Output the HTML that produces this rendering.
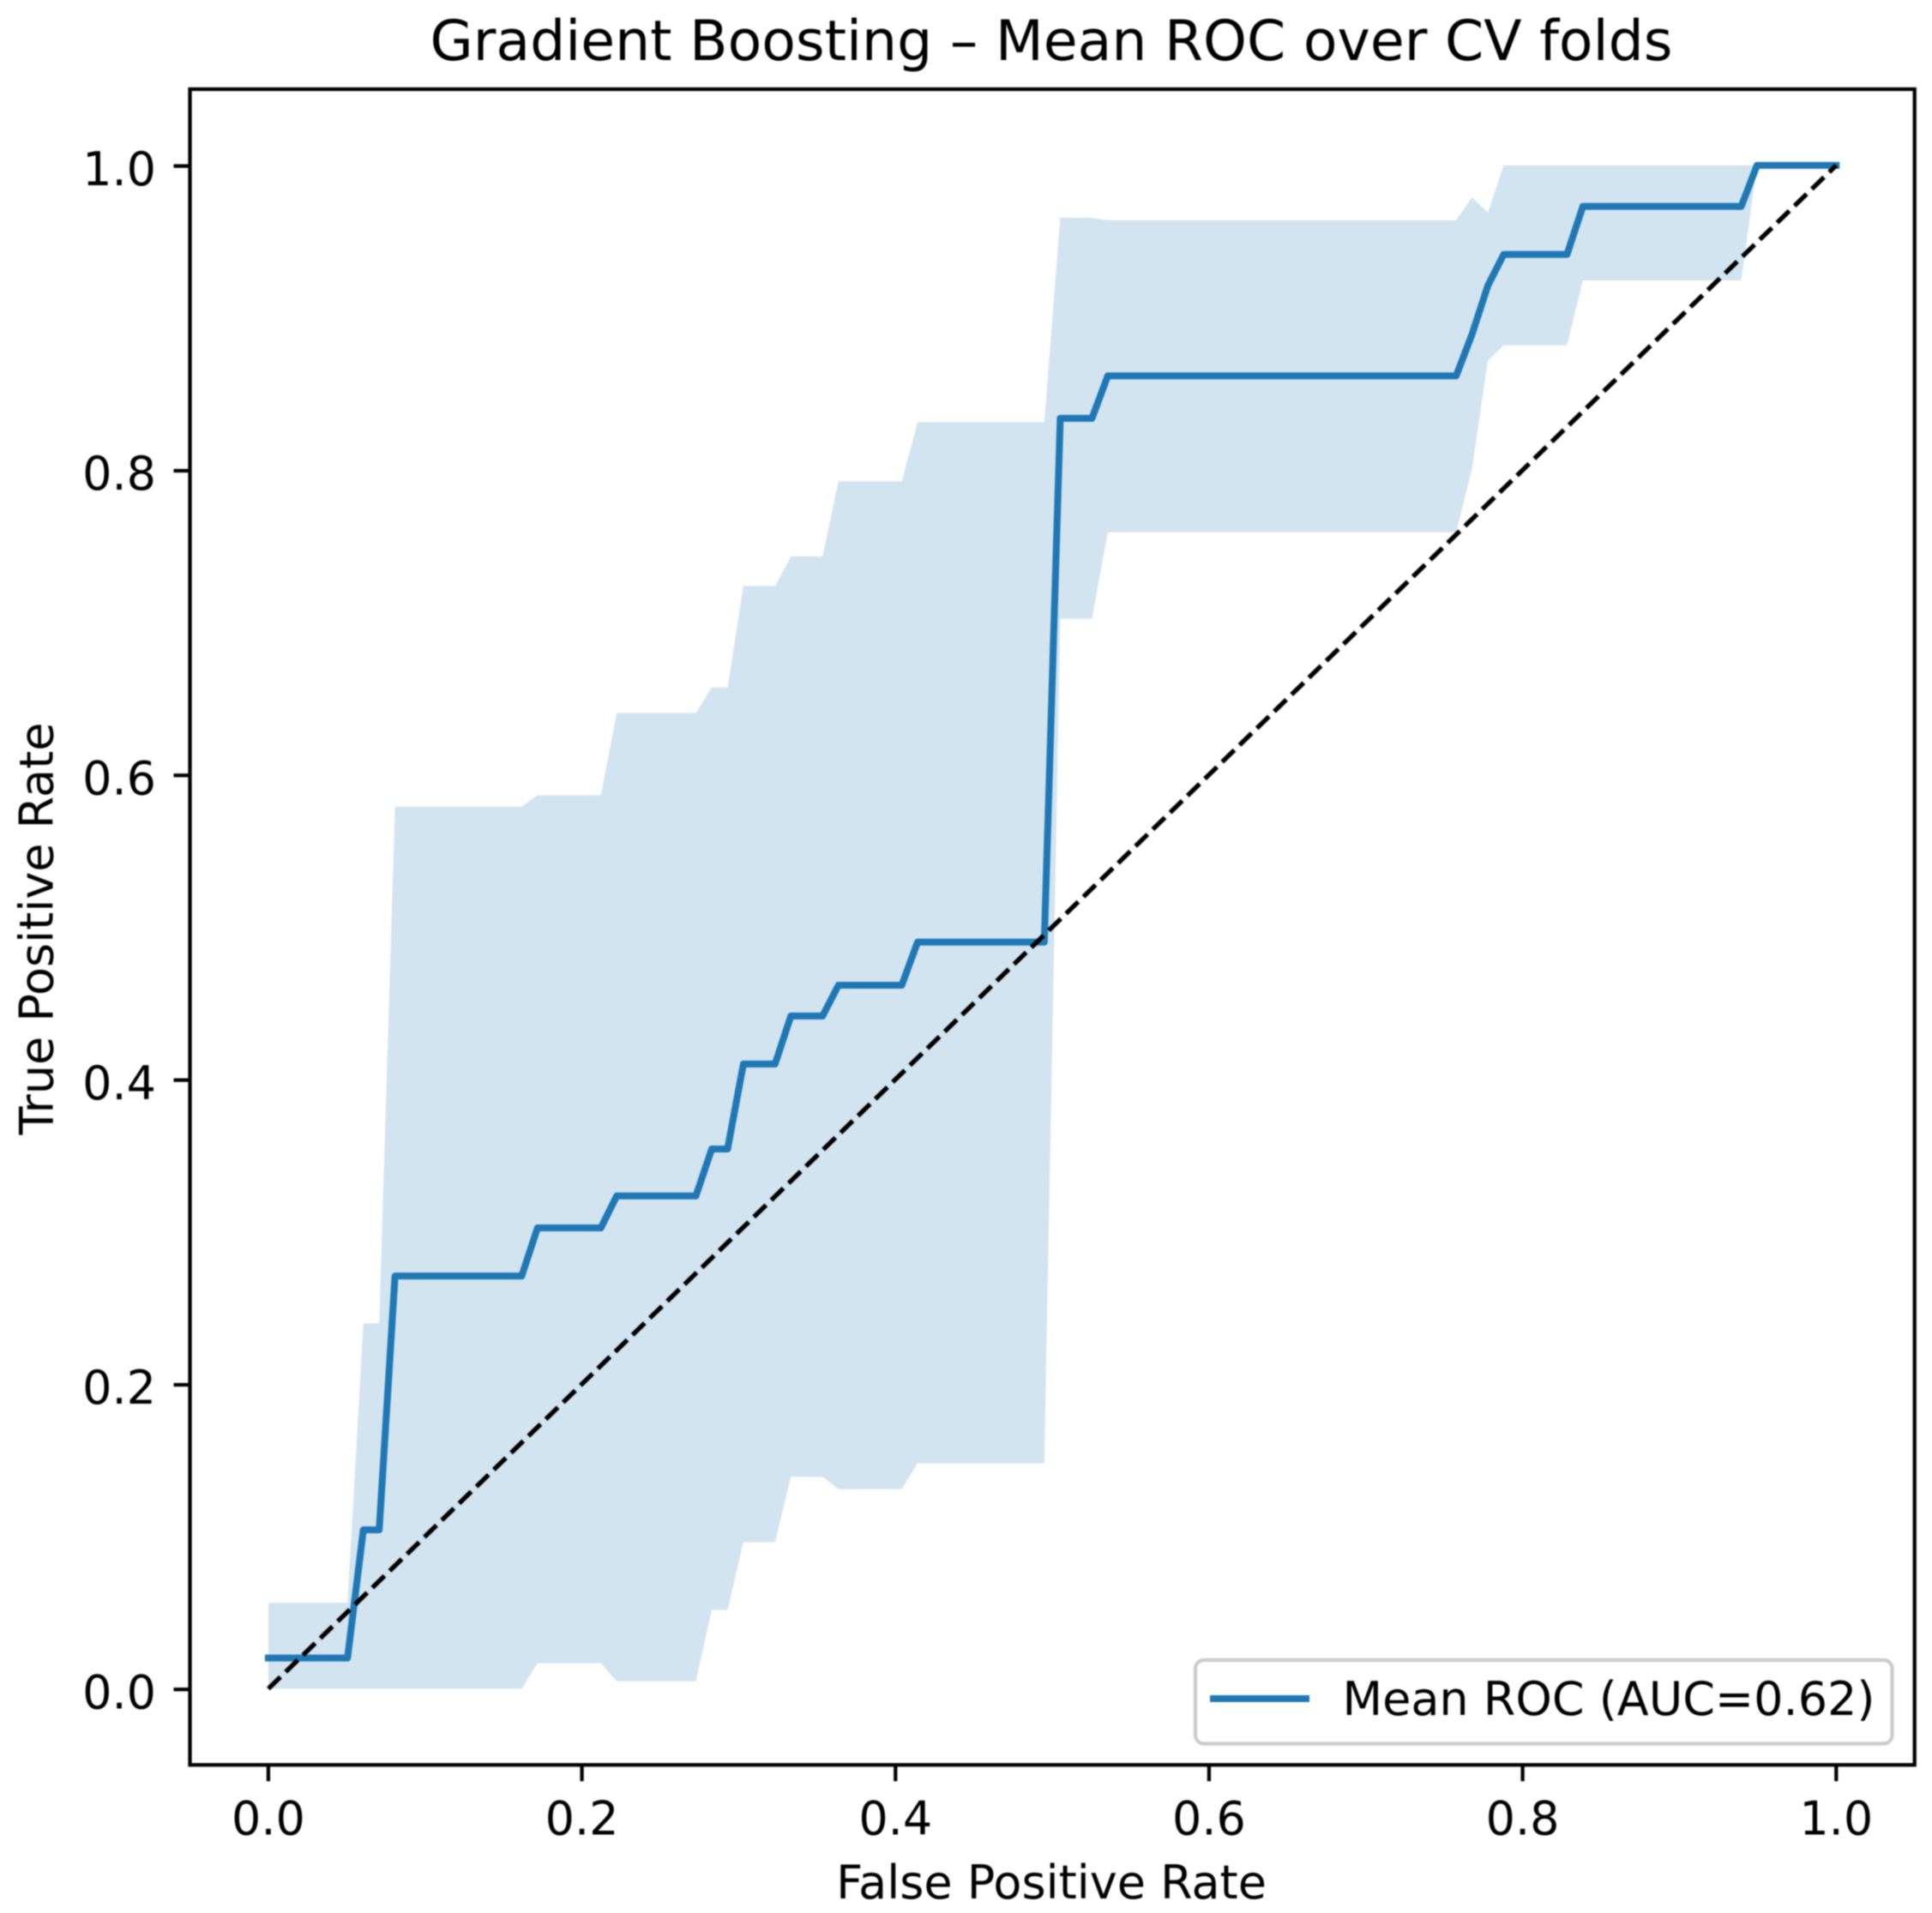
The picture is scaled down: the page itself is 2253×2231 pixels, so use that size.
<!DOCTYPE html>
<html lang="en">
<head>
<meta charset="utf-8">
<title>Gradient Boosting – Mean ROC over CV folds</title>
<style>
html,body{margin:0;padding:0;background:#fff;}
body{width:2253px;height:2231px;overflow:hidden;}
svg{display:block;filter:blur(0.7px);}
text{font-family:"DejaVu Sans","Liberation Sans",sans-serif;fill:#000;}
</style>
</head>
<body>
<svg id="chart" xmlns="http://www.w3.org/2000/svg" width="2253" height="2231" viewBox="0 0 2253 2231">
  <rect x="0" y="0" width="2253" height="2231" fill="#fff"/>
  <g id="marks"></g>
  <rect x="221.5" y="104" width="2011.2" height="1954.3" fill="none" stroke="#000" stroke-width="4.25"/>
  <g id="ticks"></g>
  <text x="1226" y="70" font-size="64.8" text-anchor="middle">Gradient Boosting – Mean ROC over CV folds</text>
  <text x="1226" y="2214" font-size="54" text-anchor="middle">False Positive Rate</text>
  <text transform="translate(61.5 1083) rotate(-90)" x="0" y="0" font-size="54" text-anchor="middle">True Positive Rate</text>
  <g>
    <rect x="1394" y="1936" width="812.5" height="97.5" rx="10" ry="10" fill="#fff" fill-opacity="0.8" stroke="#ccc" stroke-width="4.25"/>
    <line x1="1411" y1="1981" x2="1527" y2="1981" stroke="#1f77b4" stroke-width="8"/>
    <text x="1565.5" y="2000" font-size="54">Mean ROC (AUC=0.62)</text>
  </g>
</svg>
<script>
const fpr = [0, .0505, .0606, .0707, .0808, .1616, .1717, .2121, .2222, .2727, .2828, .2929, .3030, .3232, .3333, .3535, .3636, .4040, .4141, .4949, .5051, .5253, .5354, .7576, .7677, .7778, .7879, .8283, .8384, .9394, .9495, 1];
const meanTpr = [.0202, .0202, .1043, .1043, .2709, .2709, .3025, .3025, .3235, .3235, .3543, .3543, .4101, .4101, .4416, .4416, .4618, .4618, .4901, .4901, .8339, .8339, .8618, .8618, .889, .9210, .9415, .9415, .973, .973, 1, 1];
const upperTpr = [.0565, .0565, .2398, .2398, .5791, .5791, .5865, .5865, .6405, .6405, .6573, .6573, .7239, .7239, .7433, .7433, .7926, .7926, .8314, .8314, .9656, .9656, .964, .964, .979, .9691, 1, 1, 1, 1, 1, 1];
const lowerTpr = [0, 0, 0, 0, 0, 0, .0168, .0168, .0049, .0049, .0518, .0518, .0962, .0962, .1391, .1391, .131, .131, .148, .148, .7023, .7023, .7591, .7591, .8006, .8717, .8819, .8819, .9245, .9245, 1, 1];
const chanceX = [0, 1];
const chanceY = [0, 1];
const xTickValues = [0, 0.2, 0.4, 0.6, 0.8, 1];
const yTickValues = [0, 0.2, 0.4, 0.6, 0.8, 1];
const xTickLabels = ["0.0", "0.2", "0.4", "0.6", "0.8", "1.0"];
const yTickLabels = ["0.0", "0.2", "0.4", "0.6", "0.8", "1.0"];

const SVG_NS = "http://www.w3.org/2000/svg";
const plotLeft = 221.5, plotRight = 2232.7, plotTop = 104, plotBottom = 2058.3;
const xMin = -0.05, xMax = 1.05, yMin = -0.05, yMax = 1.05;
function xScale(v) { return plotLeft + (v - xMin) / (xMax - xMin) * (plotRight - plotLeft); }
function yScale(v) { return plotBottom - (v - yMin) / (yMax - yMin) * (plotBottom - plotTop); }
function linePath(xs, ys) {
  return xs.map(function (v, i) {
    return (i ? "L" : "M") + xScale(v).toFixed(2) + " " + yScale(ys[i]).toFixed(2);
  }).join(" ");
}
function bandPath(xs, hi, lo) {
  const top = linePath(xs, hi);
  const rx = xs.slice().reverse();
  const rl = lo.slice().reverse();
  const bottom = rx.map(function (v, i) {
    return "L" + xScale(v).toFixed(2) + " " + yScale(rl[i]).toFixed(2);
  }).join(" ");
  return top + " " + bottom + " Z";
}

const marks = document.getElementById("marks");
const ticks = document.getElementById("ticks");

const band = document.createElementNS(SVG_NS, "path");
band.setAttribute("d", bandPath(fpr, upperTpr, lowerTpr));
band.setAttribute("fill", "#1f77b4");
band.setAttribute("fill-opacity", "0.2");
band.setAttribute("stroke", "none");


marks.appendChild(band);

const meanLine = document.createElementNS(SVG_NS, "path");
meanLine.setAttribute("d", linePath(fpr, meanTpr));
meanLine.setAttribute("fill", "none");
meanLine.setAttribute("stroke", "#1f77b4");
meanLine.setAttribute("stroke-width", "8");
meanLine.setAttribute("stroke-linejoin", "round");
meanLine.setAttribute("stroke-linecap", "square");


marks.appendChild(meanLine);

const chanceLine = document.createElementNS(SVG_NS, "path");
chanceLine.setAttribute("d", linePath(chanceX, chanceY));
chanceLine.setAttribute("fill", "none");
chanceLine.setAttribute("stroke", "#000");
chanceLine.setAttribute("stroke-width", "5.4");
chanceLine.setAttribute("stroke-dasharray", "19.7 8.5");


marks.appendChild(chanceLine);

xTickValues.forEach(function (v, i) {
  const mark = document.createElementNS(SVG_NS, "line");
  mark.setAttribute("x1", xScale(v));
  mark.setAttribute("x2", xScale(v));
  mark.setAttribute("y1", plotBottom);
  mark.setAttribute("y2", plotBottom + 19);
  mark.setAttribute("stroke", "#000");
  mark.setAttribute("stroke-width", "4.25");
  
  
  ticks.appendChild(mark);

  const label = document.createElementNS(SVG_NS, "text");
  label.setAttribute("x", xScale(v));
  label.setAttribute("y", plotBottom + 81);
  label.setAttribute("font-size", "54");
  label.setAttribute("text-anchor", "middle");
  
  
  label.textContent = xTickLabels[i];
  ticks.appendChild(label);
});

yTickValues.forEach(function (v, i) {
  const mark = document.createElementNS(SVG_NS, "line");
  mark.setAttribute("x1", plotLeft - 19);
  mark.setAttribute("x2", plotLeft);
  mark.setAttribute("y1", yScale(v) + 0.8);
  mark.setAttribute("y2", yScale(v) + 0.8);
  mark.setAttribute("stroke", "#000");
  mark.setAttribute("stroke-width", "4.25");
  
  
  ticks.appendChild(mark);

  const label = document.createElementNS(SVG_NS, "text");
  label.setAttribute("x", plotLeft - 39.5);
  label.setAttribute("y", yScale(v) + 23);
  label.setAttribute("font-size", "54");
  label.setAttribute("text-anchor", "end");
  
  
  label.textContent = yTickLabels[i];
  ticks.appendChild(label);
});
</script>
</body>
</html>
